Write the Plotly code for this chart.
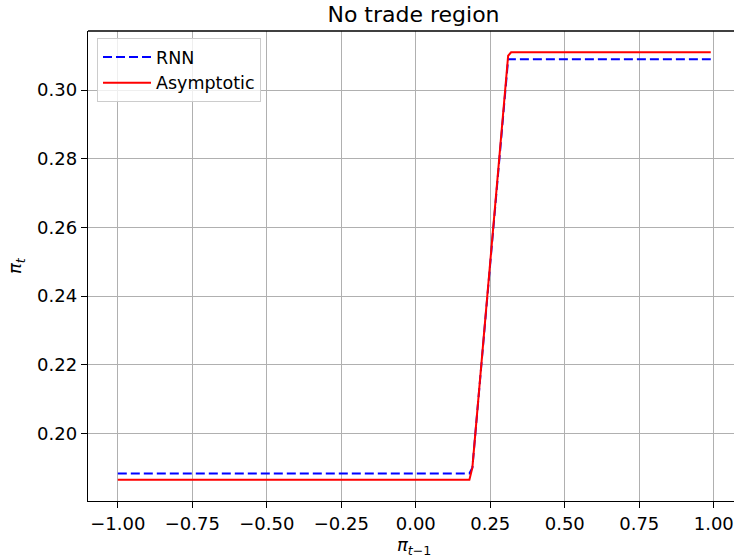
import plotly.graph_objects as go

# Data
x_rnn = [-1.0, 0.18, 0.19, 0.30, 0.31, 0.99]
y_rnn = [0.1883, 0.1883, 0.19, 0.30, 0.309, 0.309]
x_asym = [-1.0, 0.18, 0.19, 0.31, 0.32, 0.99]
y_asym = [0.1865, 0.1865, 0.19, 0.31, 0.311, 0.311]
x_ticks = [-1.0, -0.75, -0.5, -0.25, 0.0, 0.25, 0.5, 0.75, 1.0]
y_ticks = [0.20, 0.22, 0.24, 0.26, 0.28, 0.30]

FONT = "DejaVu Sans"
W, H = 734, 560

fig = go.Figure()
fig.add_trace(go.Scatter(x=x_rnn, y=y_rnn, mode="lines", name="RNN",
                         line=dict(color="blue", width=2, dash="9px,4px")))
fig.add_trace(go.Scatter(x=x_asym, y=y_asym, mode="lines", name="Asymptotic",
                         line=dict(color="red", width=2)))

axis_common = dict(showgrid=True, gridcolor="#b0b0b0", gridwidth=1.3,
                   showline=True, linecolor="black", linewidth=1.4,
                   ticks="outside", ticklen=6, tickwidth=1.4, tickcolor="black",
                   zeroline=False, automargin=False,
                   tickfont=dict(family=FONT, size=18, color="black"))

fig.update_xaxes(range=[-1.1, 1.068], tickvals=x_ticks, tickformat=".2f", **axis_common)
fig.update_yaxes(range=[0.1803, 0.3172], tickvals=y_ticks, tickformat=".2f", **axis_common)

fig.add_shape(type="line", xref="paper", yref="paper", x0=0, x1=1, y0=1, y1=1,
              line=dict(color="black", width=1.4))

fig.add_annotation(text="<i>π</i><sub><i>t</i>−1</sub>", xref="paper", yref="paper",
                   x=(414 - 88) / (W - 88), y=-(546 - 501) / 470,
                   xanchor="center", yanchor="middle", showarrow=False,
                   font=dict(family=FONT, size=18, color="black"))
fig.add_annotation(text="<i>π</i><sub><i>t</i></sub>", xref="paper", yref="paper",
                   x=-(88 - 16) / (W - 88), y=1 - (266 - 31) / 470, textangle=-90,
                   xanchor="center", yanchor="middle", showarrow=False,
                   font=dict(family=FONT, size=18, color="black"))

fig.update_layout(
    width=W, height=H,
    margin=dict(l=88, r=0, t=31, b=59),
    paper_bgcolor="white", plot_bgcolor="white",
    title=dict(text="No trade region", x=413.5 / W, xref="container", xanchor="center",
               y=1 - 14 / H, yref="container", yanchor="middle",
               font=dict(family=FONT, size=22, color="black")),
    legend=dict(x=(97 - 88) / (W - 88), y=1 - (38 - 31) / 470, xanchor="left", yanchor="top",
                bgcolor="rgba(255,255,255,0.8)", bordercolor="#cccccc", borderwidth=1,
                itemwidth=48,
                font=dict(family=FONT, size=17.5, color="black")),
    showlegend=True,
)

fig.write_html("out.html", config={"displayModeBar": False},
               post_script="document.body.style.margin='0';document.body.style.padding='0';")
